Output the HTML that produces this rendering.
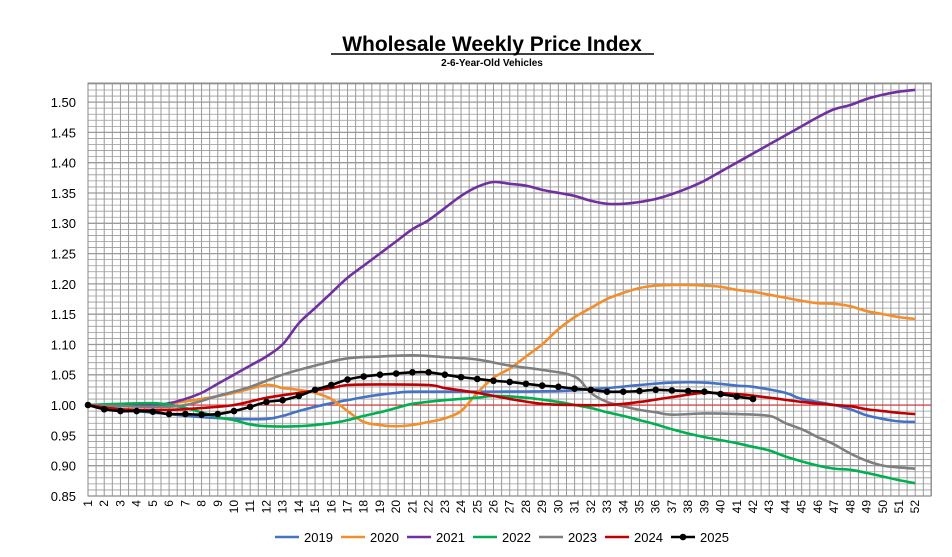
<!DOCTYPE html><html><head><style>body{margin:0;background:#fff}svg{display:block;font-family:"Liberation Sans",sans-serif}</style></head><body>
<svg id="s" width="952" height="557" xmlns="http://www.w3.org/2000/svg">
<text x="492" y="51" text-anchor="middle" font-size="21" font-weight="bold">Wholesale Weekly Price Index</text>
<line x1="331" y1="54" x2="654" y2="54" stroke="#000" stroke-width="1.5"/>
<text x="492" y="66" text-anchor="middle" font-size="10" font-weight="bold">2-6-Year-Old Vehicles</text>
<g id="grid"></g><g id="lines"></g><g id="lab"></g>
</svg>
<script>
const S=document.getElementById('s'),ns='http://www.w3.org/2000/svg';
const X=w=>88+(w-1)*16.22, Y=v=>405-(v-1)*606;
function el(p,t,a,txt){const e=document.createElementNS(ns,t);for(const k in a)e.setAttribute(k,a[k]);if(txt)e.textContent=txt;document.getElementById(p).appendChild(e);return e;}
const L=88,R=931,T=83,B=496;
for(let x=L;x<=R+1;x+=8.11)el('grid','line',{x1:x,x2:x,y1:T,y2:B,stroke:'#9a9a9a','stroke-width':1});
for(let i=0;;i++){const y=B-i*6.06;if(y<T-1)break;el('grid','line',{x1:L,x2:R,y1:y,y2:y,stroke:'#9a9a9a','stroke-width':i%5==0?1.3:0.8});}
el('grid','rect',{x:L,y:T,width:R-L,height:B-T,fill:'none',stroke:'#888'});
el('grid','line',{x1:L,x2:R,y1:Y(1),y2:Y(1),stroke:'#e02020','stroke-width':1});
for(let i=0;i<=13;i++){const v=0.85+i*0.05;el('lab','text',{x:76,y:Y(v)+5,'text-anchor':'end','font-size':13},v.toFixed(2));}
for(let w=1;w<=52;w++){el('lab','text',{transform:`translate(${X(w)+4},500) rotate(-90)`,'text-anchor':'end','font-size':12},w);}
function parse(s){const a=s.trim().split(/\s+/).map(Number),p=[];for(let i=0;i<a.length;i+=2)p.push([a[i],a[i+1]]);return p;}
function path(pts){let d=`M${X(pts[0][0])},${Y(pts[0][1])}`;for(let i=0;i<pts.length-1;i++){const p0=pts[Math.max(i-1,0)],p1=pts[i],p2=pts[i+1],p3=pts[Math.min(i+2,pts.length-1)];const c1x=X(p1[0])+(X(p2[0])-X(p0[0]))/6,c1y=Y(p1[1])+(Y(p2[1])-Y(p0[1]))/6,c2x=X(p2[0])-(X(p3[0])-X(p1[0]))/6,c2y=Y(p2[1])-(Y(p3[1])-Y(p1[1]))/6;d+=`C${c1x},${c1y} ${c2x},${c2y} ${X(p2[0])},${Y(p2[1])}`;}return d;}
const S2={
'#4472c4':'1 1.0 4 0.99 6 0.985 8 0.98 10 0.977 12 0.977 13 0.982 14 0.99 15 0.997 16 1.003 17 1.008 18 1.013 19 1.017 20 1.02 21 1.022 25 1.022 30 1.023 33 1.028 35 1.033 37 1.037 39 1.037 41 1.032 42 1.03 44 1.02 45 1.01 47 1.0 48 0.993 49 0.983 50 0.977 51 0.973 52 0.972',
'#f28e2b':'1 1.0 5 1.0 8 1.01 10 1.02 12 1.033 13 1.028 14 1.025 15 1.02 16 1.01 17 0.99 18 0.972 19 0.967 20 0.965 21 0.967 22 0.972 23 0.978 24 0.99 25 1.02 26 1.045 27 1.06 28 1.08 29 1.10 30 1.125 31 1.145 32 1.16 33 1.175 34 1.185 35 1.193 36 1.197 37 1.198 38 1.198 39 1.197 40 1.195 41 1.19 42 1.187 43 1.182 44 1.177 45 1.172 46 1.168 47 1.167 48 1.163 49 1.155 50 1.15 51 1.145 52 1.142',
'#7030a0':'1 1.0 5 1.0 6 1.003 7 1.01 8 1.02 9 1.035 10 1.05 11 1.065 12 1.08 13 1.10 14 1.135 15 1.16 16 1.185 17 1.21 18 1.23 19 1.25 20 1.27 21 1.29 22 1.305 23 1.325 24 1.345 25 1.36 26 1.368 27 1.365 28 1.362 29 1.355 30 1.35 31 1.345 32 1.337 33 1.332 34 1.332 35 1.335 36 1.34 37 1.348 38 1.358 39 1.37 40 1.385 41 1.40 42 1.415 43 1.43 44 1.445 45 1.46 46 1.475 47 1.488 48 1.495 49 1.505 50 1.512 51 1.517 52 1.52',
'#00b050':'1 1.0 5 1.003 7 0.995 9 0.98 10 0.975 11 0.968 12 0.965 14 0.965 16 0.97 17 0.975 18 0.982 19 0.988 20 0.995 21 1.002 23 1.008 25 1.012 26 1.015 28 1.012 30 1.005 31 1.0 32 0.995 33 0.988 34 0.982 35 0.975 36 0.968 37 0.96 38 0.953 39 0.947 40 0.942 41 0.937 42 0.931 43 0.925 44 0.915 45 0.907 46 0.9 47 0.895 48 0.893 49 0.888 50 0.882 51 0.876 52 0.871',
'#7f7f7f':'1 1.0 5 0.997 7 1.0 9 1.015 11 1.03 13 1.05 15 1.065 17 1.077 19 1.08 21 1.082 23 1.079 25 1.075 27 1.065 29 1.058 31 1.047 32 1.02 33 1.005 34 0.998 35 0.992 36 0.988 37 0.984 39 0.986 41 0.985 43 0.982 44 0.97 45 0.96 46 0.947 47 0.935 48 0.92 49 0.908 50 0.9 51 0.897 52 0.895',
'#c00000':'1 1.0 3 0.993 6 0.992 8 0.995 10 1.0 12 1.012 14 1.02 16 1.028 17 1.033 19 1.034 22 1.033 23 1.028 25 1.02 27 1.01 29 1.002 31 1.0 33 1.0 35 1.005 37 1.013 39 1.02 41 1.018 43 1.012 45 1.005 47 1.0 48 0.998 49 0.993 50 0.99 51 0.987 52 0.985'};
for(const c in S2){el('lines','path',{d:path(parse(S2[c])),fill:'none',stroke:c,'stroke-width':2.6});}
const blk=parse('1 1.0 2 0.993 3 0.99 4 0.99 5 0.989 6 0.985 7 0.985 8 0.984 9 0.985 10 0.99 11 0.997 12 1.005 13 1.008 14 1.015 15 1.025 16 1.033 17 1.042 18 1.047 19 1.05 20 1.052 21 1.054 22 1.054 23 1.05 24 1.046 25 1.043 26 1.04 27 1.038 28 1.035 29 1.032 30 1.03 31 1.027 32 1.025 33 1.022 34 1.022 35 1.023 36 1.025 37 1.024 38 1.023 39 1.022 40 1.018 41 1.014 42 1.01');
el('lines','path',{d:path(blk),fill:'none',stroke:'#000','stroke-width':2.6});
blk.forEach(p=>el('lines','circle',{cx:X(p[0]),cy:Y(p[1]),r:3.3,fill:'#000'}));
const leg=[['2019','#4472c4'],['2020','#f28e2b'],['2021','#7030a0'],['2022','#00b050'],['2023','#7f7f7f'],['2024','#c00000'],['2025','#000']];
let lx=275;leg.forEach((l,i)=>{el('lab','line',{x1:lx,x2:lx+24,y1:537,y2:537,stroke:l[1],'stroke-width':2.6});if(i==6)el('lab','circle',{cx:lx+12,cy:537,r:3.3,fill:'#000'});el('lab','text',{x:lx+29,y:542,'font-size':13},l[0]);lx+=66;});
</script></body></html>
